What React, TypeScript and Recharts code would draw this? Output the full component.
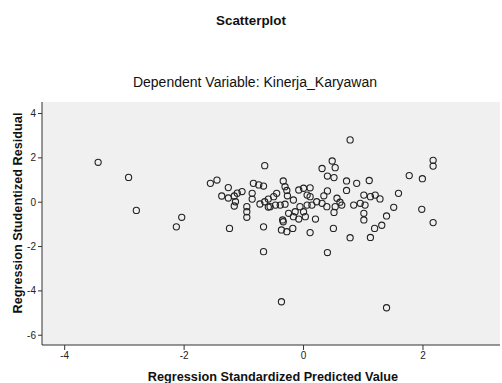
import React from "react";
import { ScatterChart, Scatter, XAxis, YAxis, CartesianGrid } from "recharts";

const chartTitle = "Scatterplot";
const chartSubtitle = "Dependent Variable: Kinerja_Karyawan";
const xAxisTitle = "Regression Standardized Predicted Value";
const yAxisTitle = "Regression Studentized Residual";

const xTicks = [-4, -2, 0, 2];
const yTicks = [-6, -4, -2, 0, 2, 4];

const predicted = [
  -3.44, -2.93, -2.8, -2.04, -2.13, -1.56, -1.45, -1.26, -1.37, -1.26,
  -1.16, -1.11, -1.03, -1.14, -1.16, -1.24, -0.95, -0.95, -0.95, -0.86,
  -0.86, -0.84, -0.75, -0.67, -0.65, -0.73, -0.65, -0.59, -0.59, -0.67,
  -0.67, -0.56, -0.5, -0.45, -0.47, -0.39, -0.34, -0.31, -0.28, -0.27,
  -0.31, -0.34, -0.37, -0.28, -0.18, -0.35, -0.25, -0.17, -0.14, -0.08,
  0.0, 0.11, 0.06, 0.11, -0.06, 0.0, 0.06, -0.08, 0.03, 0.2,
  0.14, 0.22, 0.11, -0.37, 0.31, 0.48, 0.53, 0.4, 0.51, 0.4,
  0.34, 0.31, 0.39, 0.56, 0.61, 0.53, 0.64, 0.51, 0.5, 0.4,
  0.72, 0.72, 0.78, 0.89, 1.1, 0.84, 0.95, 1.03, 1.01, 1.12,
  1.2, 1.28, 1.01, 1.01, 0.78, 1.12, 1.19, 1.31, 1.39, 1.39,
  1.51, 1.59, 1.77, 1.99, 1.98, 2.17, 2.17, 2.17, -0.17,
];

const residual = [
  1.8, 1.12, -0.37, -0.68, -1.11, 0.85, 1.0, 0.66, 0.28, 0.19,
  0.28, 0.41, 0.48, 0.02, -0.17, -1.18, -0.2, -0.43, -0.68, 0.4,
  0.14, 0.85, 0.78, 0.73, 1.65, -0.08, 0.02, 0.14, -0.22, -1.11,
  -2.23, -0.2, 0.25, 0.4, -0.13, -0.13, 0.96, 0.7, 0.53, 0.29,
  -0.09, -0.88, -1.25, -1.33, -1.18, -0.8, -0.5, -0.65, -0.43, 0.55,
  0.63, 0.65, 0.32, 0.25, -0.2, -0.43, -0.13, -0.76, -0.65, -0.76,
  -0.13, 0.02, -1.37, -4.49, 1.52, 1.86, 1.56, 1.18, 1.11, 0.51,
  0.29, -0.05, -0.2, 0.18, 0.0, -0.2, -0.13, -0.46, -1.18, -2.27,
  0.96, 0.53, 2.81, 0.85, 0.98, -0.13, -0.05, -0.13, 0.32, 0.25,
  0.32, 0.15, -0.5, -0.8, -1.6, -1.59, -1.18, -1.04, -0.62, -4.76,
  -0.23, 0.4, 1.2, 1.06, -0.32, 1.89, 1.63, -0.92, 0.1,
];

const points = predicted.map((x, i) => ({ x, y: residual[i] }));

const FONT = '"Liberation Sans", Arial, sans-serif';

const Ring = (props: any) => {
  const { cx, cy } = props;
  if (cx == null || cy == null) return null;
  return <circle cx={cx} cy={cy} r={3.1} fill="none" stroke="#222" strokeWidth={1.1} />;
};

export default function App() {
  return (
    <div style={{ position: "absolute", left: 0, top: 0, width: 502, height: 383, background: "#fff", fontFamily: FONT }}>
      <div style={{ position: "absolute", left: 0, width: 502, top: 13, lineHeight: "16px", textAlign: "center", fontSize: 13.4, fontWeight: "bold", color: "#111" }}>
        {chartTitle}
      </div>
      <div style={{ position: "absolute", left: 4, width: 502, top: 74, lineHeight: "16px", textAlign: "center", fontSize: 14, color: "#111" }}>
        {chartSubtitle}
      </div>
      <ScatterChart width={502} height={383} margin={{ top: 102, right: 2, bottom: 0, left: 0 }}>
        <CartesianGrid fill="#f0f0f0" stroke="none" horizontal={false} vertical={false} />
        <XAxis
          type="number"
          dataKey="x"
          domain={[-4.38, 3.29]}
          ticks={xTicks}
          allowDataOverflow
          height={38}
          tickSize={5}
          tickMargin={2}
          axisLine={{ stroke: "#333" }}
          tickLine={{ stroke: "#333" }}
          tick={{ fontSize: 10, fill: "#222", fontFamily: FONT }}
        />
        <YAxis
          type="number"
          dataKey="y"
          domain={[-6.44, 4.52]}
          ticks={yTicks}
          allowDataOverflow
          width={42}
          tickSize={4}
          tickMargin={2}
          axisLine={{ stroke: "#333" }}
          tickLine={{ stroke: "#333" }}
          tick={{ fontSize: 10, fill: "#222", fontFamily: FONT }}
        />
        <Scatter data={points} shape={Ring} isAnimationActive={false} />
      </ScatterChart>
      <div style={{ position: "absolute", left: 22, width: 502, top: 369, lineHeight: "16px", textAlign: "center", fontSize: 12.7, fontWeight: "bold", color: "#111" }}>
        {xAxisTitle}
      </div>
      <div style={{ position: "absolute", left: 18 - 120, top: 212.5 - 8, width: 240, lineHeight: "16px", textAlign: "center", fontSize: 12.7, fontWeight: "bold", color: "#111", transform: "rotate(-90deg)" }}>
        {yAxisTitle}
      </div>
    </div>
  );
}
